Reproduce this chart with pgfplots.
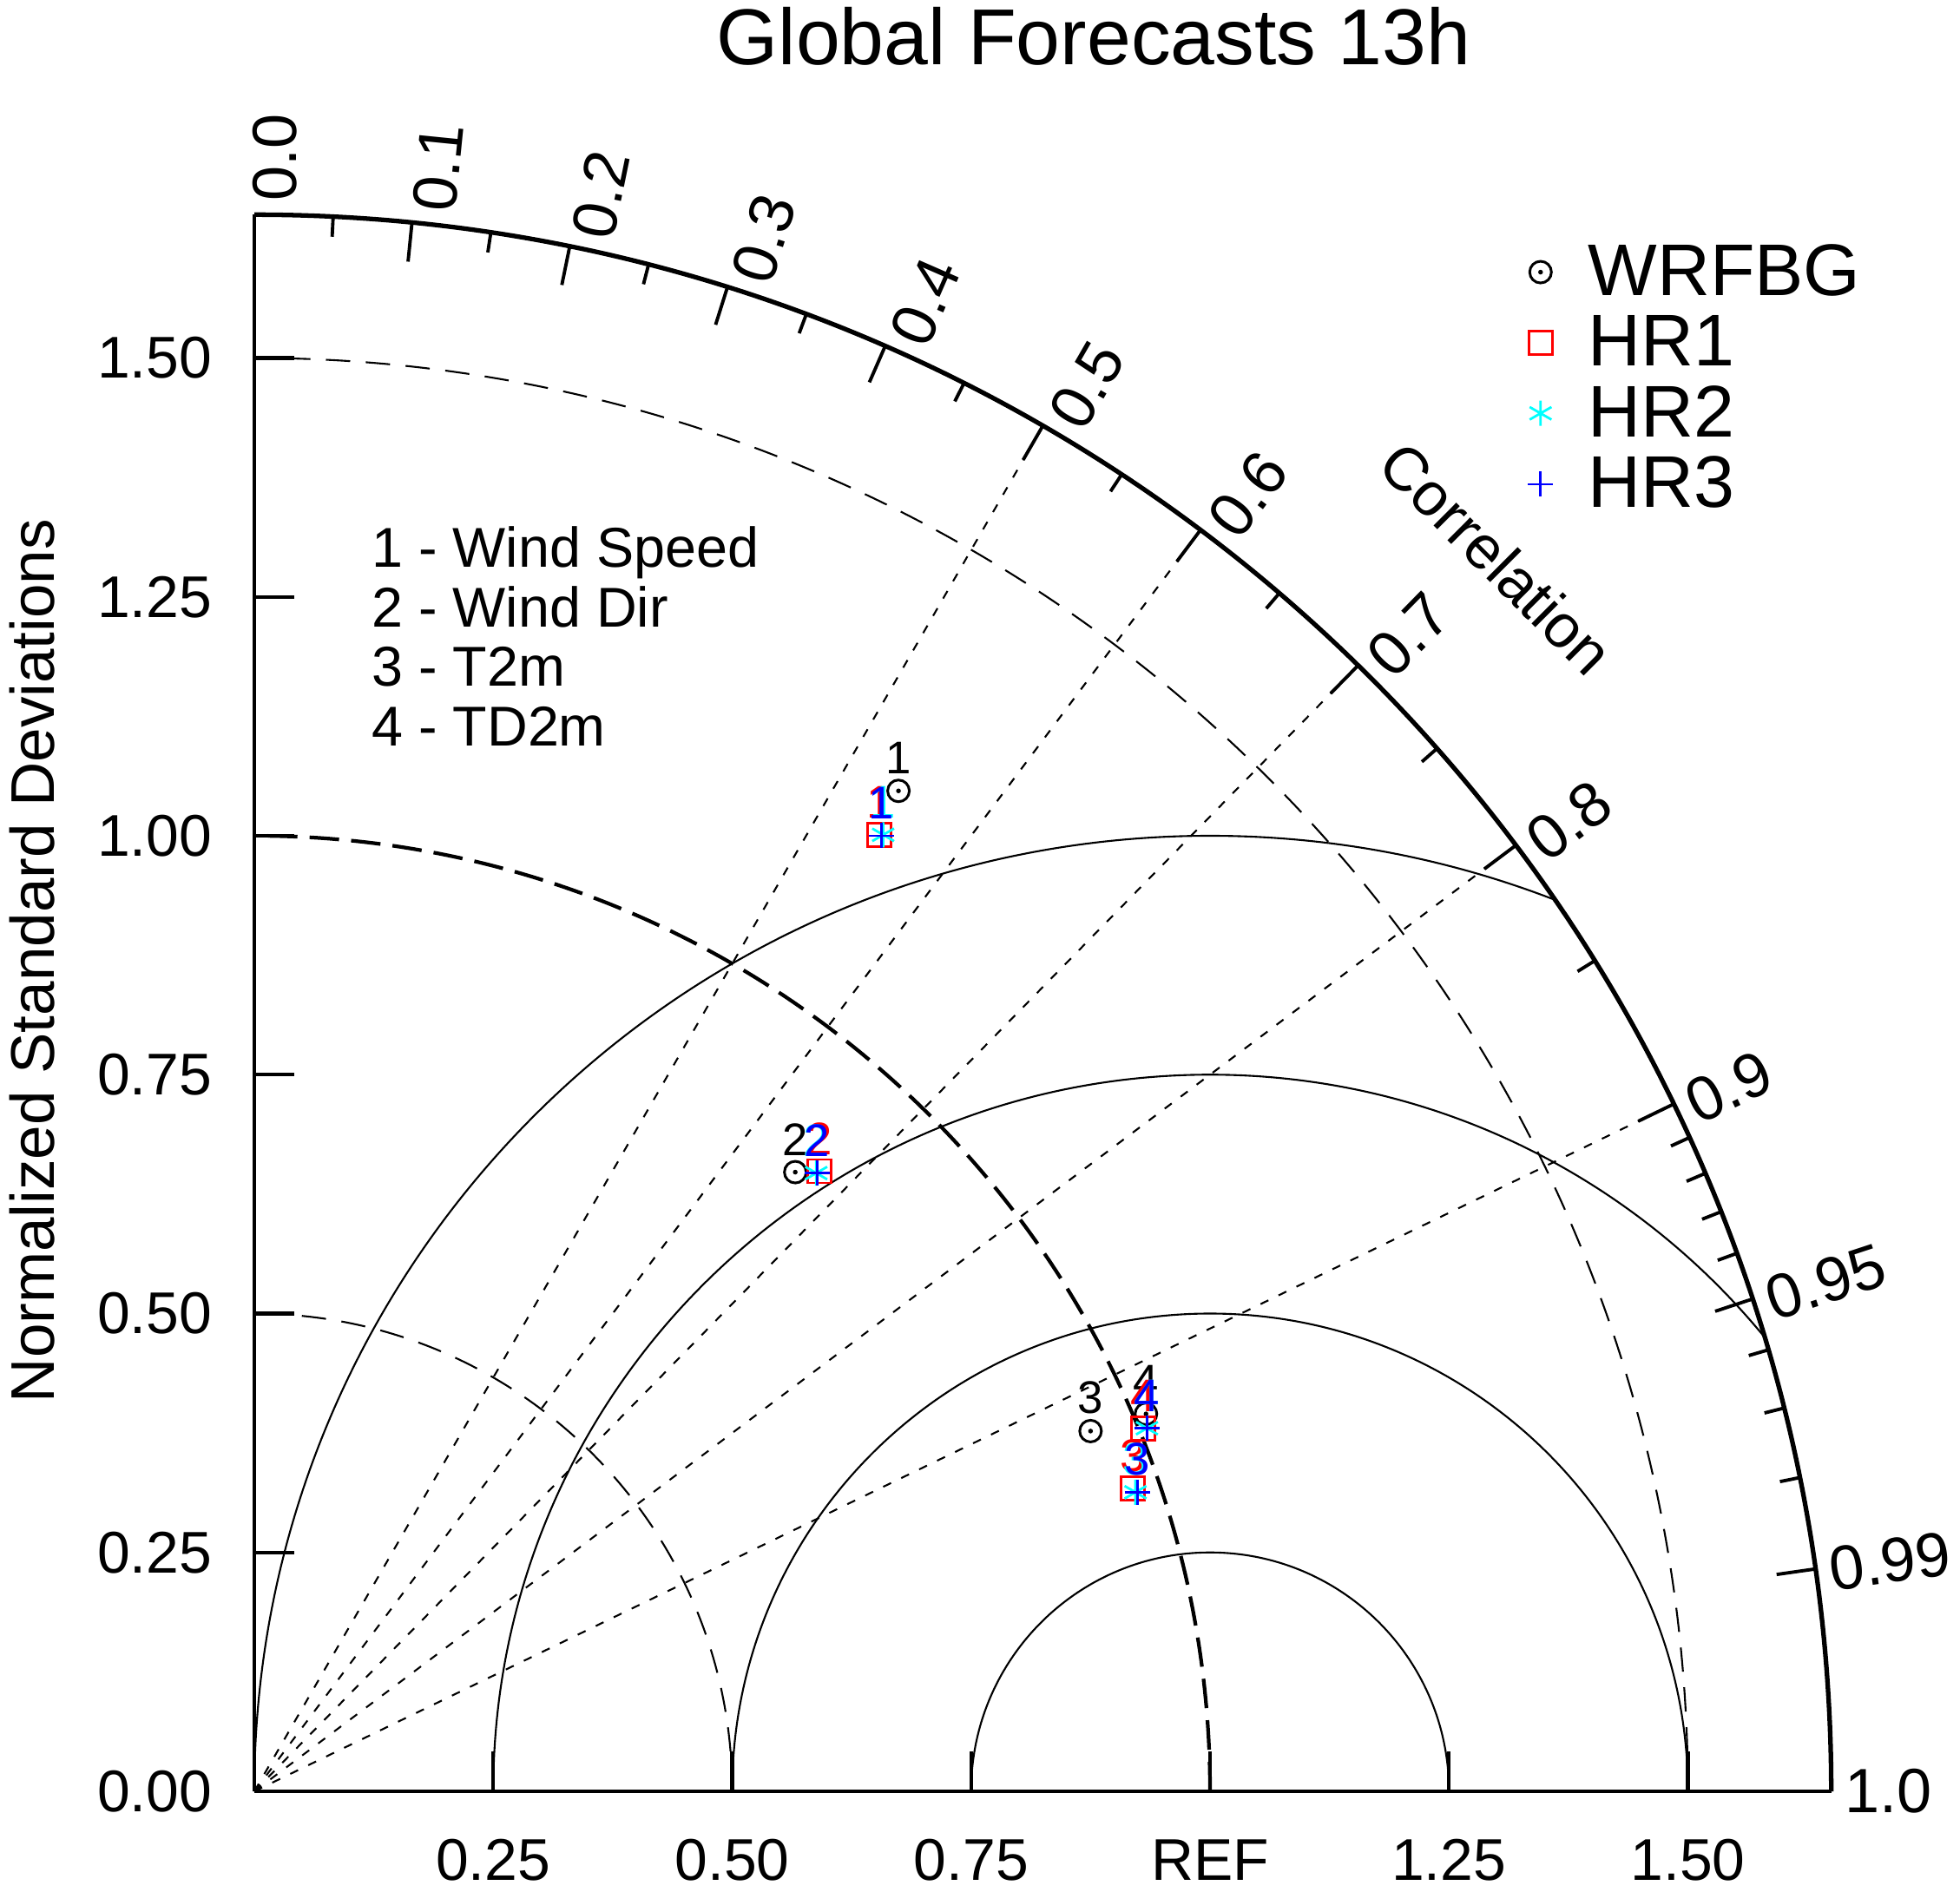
\documentclass[border=0pt]{standalone}
\usepackage{fontspec}
\setmainfont{Liberation Sans}
\usepackage{pgfplots}
\pgfplotsset{compat=1.18}

\definecolor{ncyan}{rgb}{0,1,1}
\definecolor{nred}{rgb}{1,0,0}
\definecolor{nblue}{rgb}{0,0,1}

% circle with a dot, as used for WRFBG
\pgfdeclareplotmark{odot}{%
  \pgfpathcircle{\pgfpointorigin}{\pgfplotmarksize}%
  \pgfusepathqstroke
  \pgfpathcircle{\pgfpointorigin}{0.22\pgfplotmarksize}%
  \pgfusepathqfill}

\newcommand\fs[1]{\fontsize{#1}{#1}\selectfont}

\begin{document}
\begin{tikzpicture}
\useasboundingbox (-2.93,-1.15) rectangle (19.65,20.64);

% Taylor grid, 1 unit = 11.01 cm
\begin{scope}[scale=11.01]
  \foreach \c in {0.5,0.6,0.7,0.8,0.9}
    \draw[line width=0.6pt, dash pattern=on 1mm off 1.3mm] (0,0) -- ({acos(\c)}:1.65);
  \draw[line width=0.6pt, dash pattern=on 2.8mm off 1.8mm] (0.5,0) arc[start angle=0, end angle=90, radius=0.5];
  \draw[line width=0.6pt, dash pattern=on 2.8mm off 1.8mm] (1.5,0) arc[start angle=0, end angle=90, radius=1.5];
  \draw[line width=1.2pt, dash pattern=on 3.4mm off 1.4mm] (1,0) arc[start angle=0, end angle=90, radius=1];
  \begin{scope}
    \clip (0,0) -- (1.65,0) arc[start angle=0, end angle=90, radius=1.65] -- cycle;
    \foreach \r in {0.25,0.5,0.75,1.0}
      \draw[line width=0.6pt] ({1+\r},0) arc[start angle=0, end angle=180, radius=\r];
  \end{scope}
  \draw[line width=1.5pt] (1.65,0) arc[start angle=0, end angle=90, radius=1.65];
  \foreach \c in {0.1,0.2,0.3,0.4,0.5,0.6,0.7,0.8,0.9,0.95,0.99}
    \draw[line width=1.1pt] ({acos(\c)}:1.65) -- ({acos(\c)}:1.609);
  \foreach \c in {0.05,0.15,0.25,0.35,0.45,0.55,0.65,0.75,0.85,0.91,0.92,0.93,0.94,0.96,0.97,0.98}
    \draw[line width=1.1pt] ({acos(\c)}:1.65) -- ({acos(\c)}:1.629);
  \foreach \c in {0.0,0.1,0.2,0.3,0.4,0.5,0.6,0.7,0.8,0.9,0.95,0.99,1.0}
    \node[rotate={acos(\c)}, anchor=west, inner sep=0pt, font=\fs{20.5}]
      at ({acos(\c)-0.75*sqrt(1-\c*\c)}:1.664) {\c};
  \node[rotate=-45, font=\fs{20}] at (44.8:1.832) {Correlation};
\end{scope}

\node[anchor=base, font=\fs{26}] at (9.67,19.89) {Global Forecasts 13h};
\node[anchor=base, rotate=90, font=\fs{20.2}] at (-2.30,9.57) {Normalized Standard Deviations};
\node[anchor=base west, font=\fs{18.4}] at (1.23,14.10) {1 - Wind Speed};
\node[anchor=base west, font=\fs{18.4}] at (1.23,13.41) {2 - Wind Dir};
\node[anchor=base west, font=\fs{18.4}] at (1.23,12.73) {3 - T2m};
\node[anchor=base west, font=\fs{18.4}] at (1.23,12.04) {4 - TD2m};

\begin{axis}[
  at={(0,0)}, anchor=origin,
  x=11.01cm, y=11.01cm,
  xmin=0, xmax=1.65, ymin=0, ymax=1.65,
  axis lines=left,
  axis line style={-, line width=0.9pt},
  every outer x axis line/.append style={-},
  every outer y axis line/.append style={-},
  every inner x axis line/.append style={-},
  every inner y axis line/.append style={-},
  tick align=inside,
  major tick length=4.6mm,
  tick style={line width=1.2pt, black},
  xtick={0,0.25,0.5,0.75,1,1.25,1.5},
  xticklabels={,0.25,0.50,0.75,REF,1.25,1.50},
  ytick={0,0.25,0.5,0.75,1,1.25,1.5},
  yticklabels={0.00,0.25,0.50,0.75,1.00,1.25,1.50},
  tick label style={font=\fs{19.3}, inner sep=0pt},
  xticklabel style={anchor=base, yshift=-10.25mm},
  yticklabel style={anchor=east, xshift=-4.8mm},
  clip=false,
  only marks,
  point meta=explicit symbolic,
  nodes near coords,
  every node near coord/.append style={anchor=south, inner sep=0pt, yshift=1.8mm, font=\fs{15}},
  legend cell align=left,
  legend image code/.code={\draw[#1] plot coordinates {(0.25cm,0cm)}; \path (0cm,0cm) (0.5cm,0cm);},
  legend style={draw=none, fill=none, at={(axis cs:1.3225,1.619)}, anchor=north west,
    font=\fs{24}, inner sep=0pt, outer sep=0pt, row sep=1.76mm, column sep=2.9mm,
    nodes={inner sep=0pt}},
]
\addplot[black, mark=odot, mark size=1.25mm, mark options={line width=0.3mm},
  every node near coord/.append style={text=black}]
  coordinates {(0.674,1.047) [1] (0.566,0.648) [2] (0.875,0.377) [3] (0.933,0.395) [4]};
\addlegendentry{WRFBG}
\addplot[nred, mark=square, mark size=1.35mm, mark options={line width=0.28mm},
  every node near coord/.append style={text=nred}]
  coordinates {(0.654,1.001) [1] (0.591,0.649) [2] (0.919,0.317) [3] (0.930,0.380) [4]};
\addlegendentry{HR1}
\addplot[ncyan, mark=asterisk, mark size=1.45mm, mark options={line width=0.28mm},
  every node near coord/.append style={text=ncyan}]
  coordinates {(0.658,1.001) [1] (0.588,0.647) [2] (0.922,0.313) [3] (0.934,0.380) [4]};
\addlegendentry{HR2}
\addplot[nblue, mark=+, mark size=1.45mm, mark options={line width=0.28mm},
  every node near coord/.append style={text=nblue}]
  coordinates {(0.656,1.000) [1] (0.589,0.647) [2] (0.924,0.313) [3] (0.934,0.380) [4]};
\addlegendentry{HR3}
\end{axis}
\end{tikzpicture}
\end{document}
